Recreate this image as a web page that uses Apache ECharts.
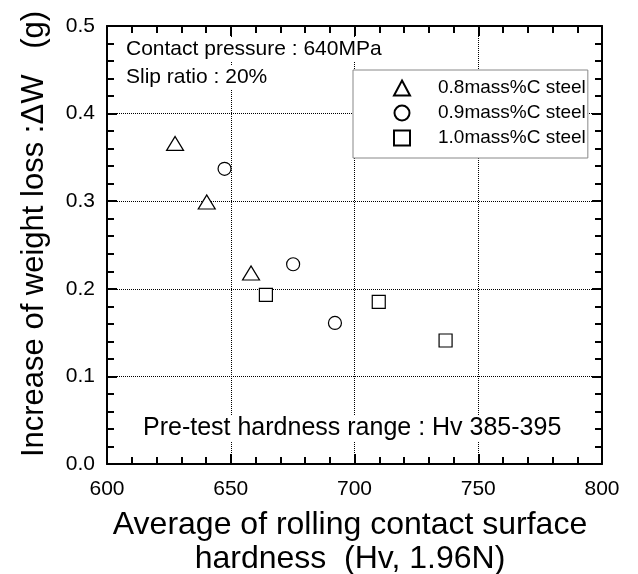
<!DOCTYPE html>
<html>
<head>
<meta charset="utf-8">
<script src="https://cdn.jsdelivr.net/npm/echarts@6/dist/echarts.min.js"></script>
<style>html,body{margin:0;padding:0;background:#fff}#c{width:638px;height:574px}</style>
</head>
<body>
<div id="c"></div>
<script>
// Data
const seriesNames = ['0.8mass%C steel', '0.9mass%C steel', '1.0mass%C steel'];
const steel08X = [627.5, 640.3, 658.2];
const steel08Y = [0.366, 0.299, 0.218];
const steel09X = [647.5, 675.2, 692.1];
const steel09Y = [0.337, 0.228, 0.161];
const steel10X = [664.2, 709.8, 736.8];
const steel10Y = [0.193, 0.185, 0.141];
const xTicks = [600, 650, 700, 750, 800];
const yTicks = [0.0, 0.1, 0.2, 0.3, 0.4, 0.5];

const FONT = '"Liberation Sans", Arial, Helvetica, sans-serif';
const pairs = (xs, ys) => xs.map((x, i) => [x, ys[i]]);

const chart = echarts.init(document.getElementById('c'), null, {renderer: 'canvas'});

function ticks() {
  return {
    axisLine: {show: true, onZero: false, lineStyle: {color: '#000', width: 2}},
    axisTick: {show: true, inside: true, length: 10, lineStyle: {color: '#000', width: 2}},
    minorTick: {show: true, splitNumber: 5, length: 7, lineStyle: {color: '#000', width: 2}}
  };
}

const markerStyle = {color: '#fff', borderColor: '#000', borderWidth: 1.2, opacity: 1};

chart.setOption({
  animation: false,
  backgroundColor: '#fff',
  grid: {left: 107, top: 26, right: 36, bottom: 110, containLabel: false},
  xAxis: [
    Object.assign({
      type: 'value', min: xTicks[0], max: xTicks[xTicks.length - 1], interval: 50,
      position: 'bottom',
      axisLabel: {show: true, color: '#000', fontFamily: FONT, fontSize: 21, margin: 15},
      splitLine: {show: true, lineStyle: {color: '#000', type: 'dotted', width: 1}},
    }, ticks()),
    Object.assign({
      type: 'value', min: xTicks[0], max: xTicks[xTicks.length - 1], interval: 50,
      position: 'top',
      axisLabel: {show: false},
      splitLine: {show: false},
    }, ticks())
  ],
  yAxis: [
    Object.assign({
      type: 'value', min: yTicks[0], max: yTicks[yTicks.length - 1], interval: 0.1,
      position: 'left',
      axisLabel: {show: true, color: '#000', fontFamily: FONT, fontSize: 21, margin: 12,
        formatter: v => v.toFixed(1)},
      splitLine: {show: true, lineStyle: {color: '#000', type: 'dotted', width: 1}},
    }, ticks()),
    Object.assign({
      type: 'value', min: yTicks[0], max: yTicks[yTicks.length - 1], interval: 0.1,
      position: 'right',
      axisLabel: {show: false},
      splitLine: {show: false},
    }, ticks())
  ],
  legend: {
    show: true,
    orient: 'vertical',
    left: 353, top: 70,
    padding: [8, 2, 10, 40],
    itemWidth: 16, itemHeight: 15, itemGap: 5,
    backgroundColor: '#fff',
    borderColor: '#888', borderWidth: 1,
    textStyle: {color: '#000', fontFamily: FONT, fontSize: 19, lineHeight: 20, padding: [0, 0, 0, 23]},
    data: seriesNames,
    selectedMode: false
  },
  series: [
    {name: seriesNames[0], type: 'scatter', symbol: 'triangle', symbolSize: [17, 14],
      itemStyle: markerStyle, data: pairs(steel08X, steel08Y), z: 5},
    {name: seriesNames[1], type: 'scatter', symbol: 'circle', symbolSize: 13,
      itemStyle: markerStyle, data: pairs(steel09X, steel09Y), z: 5},
    {name: seriesNames[2], type: 'scatter', symbol: 'rect', symbolSize: 13,
      itemStyle: markerStyle, data: pairs(steel10X, steel10Y), z: 5}
  ],
  graphic: [
    {type: 'text', left: 124, top: 38, z: 10,
      style: {text: 'Contact pressure : 640MPa', font: '21px ' + FONT, fill: '#000',
        backgroundColor: '#fff', padding: [1, 2]}},
    {type: 'text', left: 124, top: 66, z: 10,
      style: {text: 'Slip ratio : 20%', font: '21px ' + FONT, fill: '#000',
        backgroundColor: '#fff', padding: [1, 2]}},
    {type: 'text', left: 141, top: 415, z: 10,
      style: {text: 'Pre-test hardness range : Hv 385-395', font: '25px ' + FONT, fill: '#000',
        backgroundColor: '#fff', padding: [1, 2]}},
    {type: 'text', x: 350, y: 525, z: 10,
      style: {text: 'Average of rolling contact surface', font: '32px ' + FONT, fill: '#000',
        align: 'center', verticalAlign: 'middle'}},
    {type: 'text', x: 350, y: 559, z: 10,
      style: {text: 'hardness  (Hv, 1.96N)', font: '32px ' + FONT, fill: '#000',
        align: 'center', verticalAlign: 'middle'}},
    {type: 'text', x: 34, y: 234, rotation: Math.PI / 2, z: 10,
      style: {text: 'Increase of weight loss :\u0394W   (g)', font: '31px ' + FONT, fill: '#000',
        align: 'center', verticalAlign: 'middle'}}
  ]
});
</script>
</body>
</html>
